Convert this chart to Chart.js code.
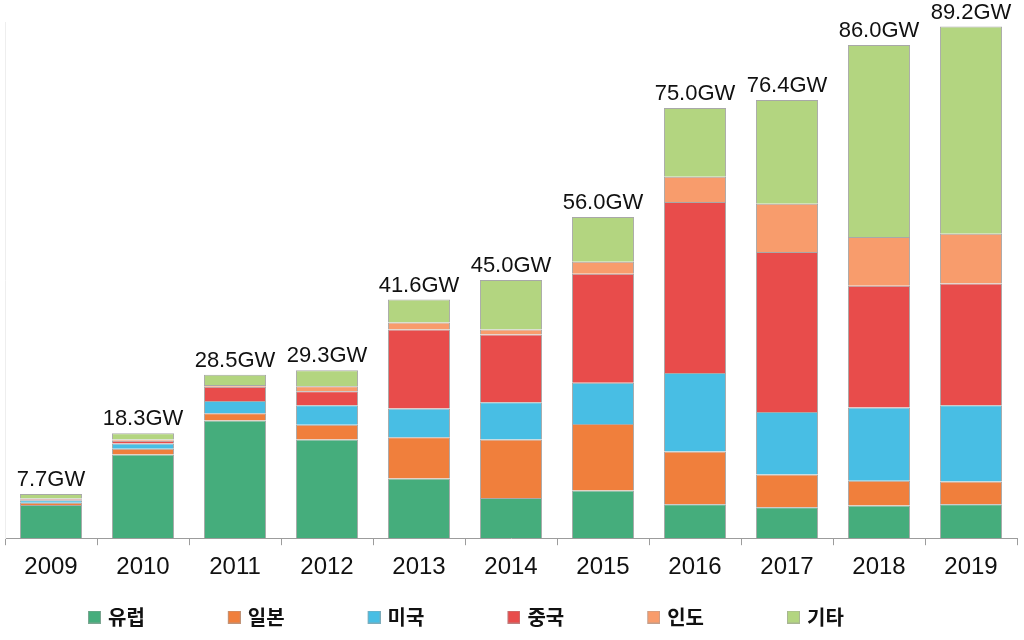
<!DOCTYPE html>
<html>
<head>
<meta charset="utf-8">
<script src="https://cdn.jsdelivr.net/npm/chart.js@4.4.1/dist/chart.umd.min.js"></script>
<style>
  html, body { margin: 0; padding: 0; background: #ffffff; }
  #wrap { width: 1024px; height: 640px; }
</style>
</head>
<body>
<div id="wrap"><canvas id="c" width="1024" height="640"></canvas></div>
<script>
// ---- data ----
const years = ['2009','2010','2011','2012','2013','2014','2015','2016','2017','2018','2019'];
const europe = [5.8, 14.6, 20.5, 17.2, 10.4, 7.0, 8.3, 5.9, 5.4, 5.7, 5.9];
const japan  = [0.4, 1.0, 1.3, 2.6, 7.2, 10.2, 11.6, 9.2, 5.7, 4.3, 4.0];
const usa    = [0.4, 0.9, 2.1, 3.4, 5.0, 6.5, 7.2, 13.7, 10.9, 12.8, 13.3];
const china  = [0.2, 0.5, 2.5, 2.4, 13.8, 11.8, 19.0, 29.8, 27.9, 21.2, 21.2];
const india  = [0.1, 0.2, 0.3, 0.9, 1.2, 0.9, 2.1, 4.4, 8.4, 8.5, 8.7];
const others = [0.8, 1.1, 1.8, 2.8, 4.0, 8.6, 7.8, 12.0, 18.1, 33.5, 36.1];
const totals = [7.7, 18.3, 28.5, 29.3, 41.6, 45.0, 56.0, 75.0, 76.4, 86.0, 89.2];
const seriesNames = ['유럽', '일본', '미국', '중국', '인도', '기타'];
const seriesColors = ['#45AD7C', '#F07F3C', '#48BEE4', '#E84C4B', '#F89C6C', '#B3D580'];

// ---- legend marker images ----
const BOX_W = 76;
function makeMarker(color) {
  const c = document.createElement('canvas');
  c.width = BOX_W + 6; c.height = 13;
  const g = c.getContext('2d');
  g.fillStyle = color;
  g.fillRect(c.width - 13, 0, 13, 13);
  g.strokeStyle = 'rgba(160,160,160,0.6)';
  g.lineWidth = 1;
  g.strokeRect(c.width - 12.5, 0.5, 12, 12);
  return c;
}
const markers = seriesColors.map(makeMarker);

const seriesData = [europe, japan, usa, china, india, others];
const datasets = seriesData.map((d, i) => ({
  label: seriesNames[i],
  data: d,
  backgroundColor: seriesColors[i],
  borderColor: '#A8A8A8',
  borderWidth: 1,
  categoryPercentage: 1.0,
  barPercentage: 0.675
}));

const totalLabels = {
  id: 'totalLabels',
  afterDatasetsDraw(chart) {
    const ctx = chart.ctx;
    const lastMeta = chart.getDatasetMeta(chart.data.datasets.length - 1);
    ctx.save();
    ctx.font = '22px "Liberation Sans", Arial, sans-serif';
    ctx.fillStyle = '#111111';
    ctx.textAlign = 'center';
    ctx.textBaseline = 'alphabetic';
    lastMeta.data.forEach((bar, i) => {
      ctx.fillText(totals[i].toFixed(1) + 'GW', bar.x, bar.y - 8);
    });
    ctx.restore();
  }
};

new Chart(document.getElementById('c'), {
  type: 'bar',
  data: { labels: years, datasets },
  plugins: [totalLabels],
  options: {
    responsive: false,
    animation: false,
    devicePixelRatio: 1,
    layout: { padding: { top: 22, left: 5, right: 7, bottom: 3 } },
    scales: {
      x: {
        stacked: true,
        grid: {
          display: true,
          drawOnChartArea: false,
          drawTicks: true,
          tickLength: 7,
          offset: true,
          color: '#9C9C9C'
        },
        border: { display: true, color: '#9C9C9C', width: 1 },
        ticks: {
          color: '#111111',
          padding: 8,
          font: { family: '"Liberation Sans", Arial, sans-serif', size: 24 }
        }
      },
      y: {
        stacked: true,
        min: 0,
        max: 90,
        grid: { display: false },
        border: { display: true, color: '#EEEEEE', width: 1 },
        ticks: { display: false },
        afterFit(scale) { scale.width = 0; }
      }
    },
    plugins: {
      tooltip: { enabled: false },
      legend: {
        position: 'bottom',
        align: 'start',
        labels: {
          usePointStyle: true,
          pointStyleWidth: BOX_W,
          boxHeight: 13,
          padding: 17,
          color: '#111111',
          font: { family: '"Noto Sans CJK KR", "Noto Sans", sans-serif', size: 20, weight: 'bold' },
          generateLabels(chart) {
            const base = Chart.defaults.plugins.legend.labels.generateLabels(chart);
            return base.map((l, i) => Object.assign({}, l, { pointStyle: markers[i], lineWidth: 0 }));
          }
        }
      }
    }
  }
});
</script>
</body>
</html>
